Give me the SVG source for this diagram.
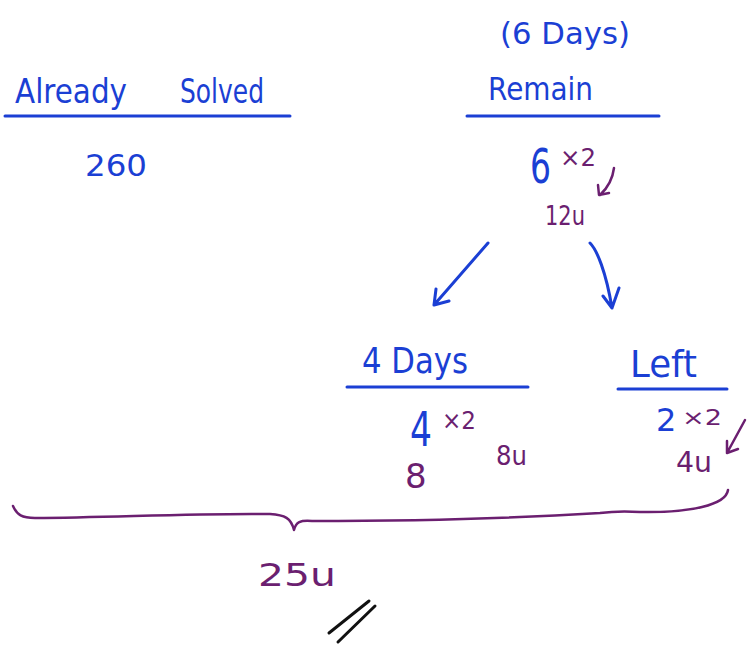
<svg xmlns="http://www.w3.org/2000/svg" width="747" height="645" viewBox="0 0 747 645">
<style>
text{font-family:"DejaVu Sans","Liberation Sans",sans-serif;}
.b{fill:#1b3fd4;}
.p{fill:#6b1f70;}
.ln{stroke:#1b3fd4;stroke-width:3;fill:none;stroke-linecap:round;}
.bs{stroke:#1b3fd4;stroke-width:3;fill:none;stroke-linecap:round;stroke-linejoin:round;}
.ps{stroke:#6b1f70;stroke-width:2.5;fill:none;stroke-linecap:round;stroke-linejoin:round;}
.ks{stroke:#111;stroke-width:3;fill:none;stroke-linecap:round;}
</style>
<rect width="747" height="645" fill="#fff"/>
<g id="already-solved">
<text class="b" x="15" y="103" font-size="34" textLength="112" lengthAdjust="spacingAndGlyphs">Already</text>
<text class="b" x="180" y="103" font-size="34" textLength="84" lengthAdjust="spacingAndGlyphs">Solved</text>
<line class="ln" x1="5" y1="116" x2="290" y2="116"/>
<text class="b" x="85" y="176" font-size="30" textLength="62" lengthAdjust="spacingAndGlyphs">260</text>
</g>
<g id="remain">
<text class="b" x="500" y="44" font-size="30" textLength="130" lengthAdjust="spacingAndGlyphs">(6 Days)</text>
<text class="b" x="488" y="100" font-size="32" textLength="105" lengthAdjust="spacingAndGlyphs">Remain</text>
<line class="ln" x1="467" y1="116" x2="659" y2="116"/>
<text class="b" x="530" y="183" font-size="48" textLength="21" lengthAdjust="spacingAndGlyphs">6</text>
<text class="p" x="560" y="166" font-size="24" textLength="36" lengthAdjust="spacingAndGlyphs">×2</text>
<text class="p" x="545" y="225" font-size="26" textLength="40" lengthAdjust="spacingAndGlyphs">12u</text>
</g>
<g id="four-days">
<text class="b" x="362" y="373" font-size="36" textLength="106" lengthAdjust="spacingAndGlyphs">4 Days</text>
<line class="ln" x1="347" y1="387" x2="528" y2="387"/>
<text class="b" x="410" y="446" font-size="48" textLength="22" lengthAdjust="spacingAndGlyphs">4</text>
<text class="p" x="442" y="429" font-size="24" textLength="34" lengthAdjust="spacingAndGlyphs">×2</text>
<text class="p" x="496" y="465" font-size="26" textLength="31" lengthAdjust="spacingAndGlyphs">8u</text>
<text class="p" x="405" y="488" font-size="34">8</text>
</g>
<g id="left">
<text class="b" x="630" y="377" font-size="38" textLength="67" lengthAdjust="spacingAndGlyphs">Left</text>
<line class="ln" x1="618" y1="389" x2="727" y2="389"/>
<text class="b" x="656" y="431" font-size="32">2</text>
<text class="p" x="682" y="425" font-size="22" textLength="40" lengthAdjust="spacingAndGlyphs">×2</text>
<text class="p" x="676" y="472" font-size="28" textLength="36" lengthAdjust="spacingAndGlyphs">4u</text>
</g>
<g id="total">
<text class="p" x="258" y="586" font-size="32" textLength="78" lengthAdjust="spacingAndGlyphs">25u</text>
</g>
<g id="connectors">
<path class="ps" d="M614,168 Q612,184 600,195 M598,185 L599,195 L609,193"/>
<path class="bs" d="M488,243 L434,305 M436,289 L434,305 L449,301"/>
<path class="bs" d="M590,243 C597,250 606,272 612,308 M603,296 L612,308 L619,288"/>
<path class="ps" d="M745,420 L727,453 M727,441 L727,453 L738,449"/>
<path class="ps" d="M13,506 C17,515 22,518 35,518 C120,517 200,513 270,514 C285,515 291,518 294,530 C296,522 300,520 312,521 C420,521 520,518 600,513 C615,511 625,511 640,512 C690,513 726,505 728,490"/>
<path class="ks" d="M329,633 L369,601 M338,642 L375,606"/>
</g>
</svg>
